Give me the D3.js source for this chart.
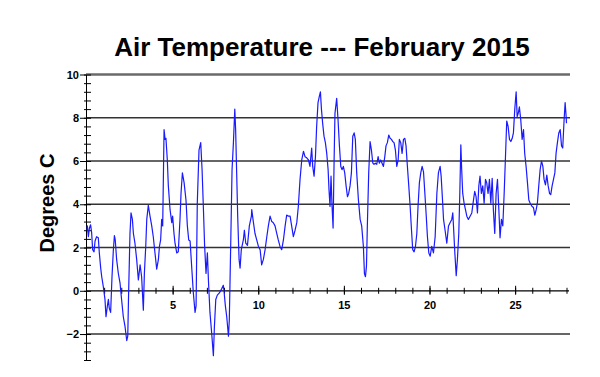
<!DOCTYPE html>
<html>
<head>
<meta charset="utf-8">
<script src="https://cdn.jsdelivr.net/npm/d3@7"></script>
<style>
  body { margin: 0; background: #fff; }
  text { font-family: Arial, "Liberation Sans", sans-serif; }
</style>
</head>
<body>
<div id="chart"></div>
<script>
// Air temperature readings, February 2015 (day of month, degrees C)
const days = [
  0.00,0.02,0.08,0.14,0.21,0.27,0.33,0.41,0.47,0.56,
  0.66,0.72,0.80,0.86,0.95,1.05,1.11,1.19,1.25,1.30,
  1.38,1.46,1.54,1.60,1.65,1.73,1.83,1.93,2.02,2.12,
  2.22,2.32,2.38,2.43,2.51,2.57,2.65,2.71,2.80,2.90,
  3.00,3.10,3.19,3.29,3.35,3.43,3.49,3.58,3.68,3.78,
  3.87,3.97,4.07,4.17,4.23,4.30,4.36,4.42,4.50,4.56,
  4.61,4.69,4.75,4.85,4.95,5.00,5.08,5.14,5.24,5.33,
  5.43,5.49,5.57,5.67,5.78,5.86,5.94,6.02,6.11,6.21,
  6.31,6.37,6.44,6.54,6.64,6.72,6.80,6.87,6.95,7.03,
  7.09,7.18,7.28,7.38,7.44,7.52,7.61,7.73,7.87,7.96,
  8.00,8.08,8.16,8.26,8.31,8.39,8.47,8.55,8.63,8.68,
  8.74,8.80,8.88,8.94,9.01,9.13,9.19,9.27,9.37,9.48,
  9.60,
  9.62,9.72,9.81,9.91,10.01,10.11,10.20,10.30,10.40,10.50,
  10.59,10.69,10.79,10.88,10.98,11.08,11.17,11.27,11.37,11.47,
  11.57,11.66,11.76,11.86,11.95,12.05,12.15,12.25,12.34,12.44,
  12.54,12.64,12.73,12.83,12.93,13.02,13.12,13.18,13.26,13.34,
  13.41,13.49,13.57,13.63,13.69,13.76,13.84,13.92,14.00,14.08,
  14.13,14.19,14.25,14.31,14.37,14.43,14.48,14.58,14.66,14.74,
  14.82,14.89,14.97,15.05,15.13,15.21,15.28,15.36,15.44,15.52,
  15.60,15.67,15.75,15.85,15.95,16.04,16.14,16.20,16.26,16.32,
  16.37,16.45,16.53,16.61,16.69,16.76,16.84,16.92,17.00,17.07,
  17.15,17.23,17.31,17.39,17.46,17.54,17.62,17.70,17.78,17.85,
  17.93,18.01,18.09,18.17,18.24,18.32,18.40,18.48,18.56,18.63,
  18.71,18.79,18.87,18.95,19.02,19.10,19.18,19.26,19.33,19.41,
  19.49,19.57,19.65,19.73,19.80,19.88,19.96,20.04,
  20.13,20.23,20.33,20.43,20.52,20.62,20.68,20.76,20.82,20.91,
  21.01,21.11,21.20,21.30,21.36,21.40,21.48,21.56,21.63,21.71,
  21.77,21.83,21.88,21.94,22.02,22.10,22.18,22.27,22.37,22.47,
  22.57,22.64,22.72,22.80,22.88,22.95,23.03,23.11,23.19,23.27,
  23.34,23.42,23.50,23.58,23.66,23.73,23.81,23.89,23.97,24.05,
  24.12,24.20,24.28,24.36,24.43,24.51,24.59,24.67,24.75,24.83,
  24.90,24.98,25.06,25.12,25.18,25.25,25.33,25.41,25.49,25.56,
  25.64,25.72,25.80,25.88,25.99,26.07,26.15,26.23,26.30,26.38,
  26.46,26.54,26.62,26.69,26.77,26.85,26.93,27.01,27.08,27.16,
  27.24,27.32,27.39,27.47,27.55,27.63,27.71,27.78,27.86,27.92,
  27.98,28.00
];

const temps = [
  2.8,3.0,2.5,2.9,3.05,2.7,1.9,1.8,2.3,2.5,
  2.45,1.75,1.05,0.65,0.2,-0.4,-1.2,-0.7,-0.4,-0.8,
  -1.0,0.65,1.9,2.55,2.35,1.45,0.8,0.35,-0.4,-1.2,
  -1.65,-2.3,-2.1,-0.1,2.65,3.6,3.3,2.65,2.2,1.45,
  0.5,1.2,0.65,-0.9,0.8,2.05,3.3,3.95,3.45,3.0,
  2.5,1.75,1.0,1.45,2.05,2.35,3.3,3.0,7.45,7.0,
  7.05,6.05,4.85,3.75,3.15,3.45,2.65,2.2,1.75,1.8,
  3.3,4.5,5.45,5.0,4.2,3.0,2.35,2.3,1.15,-0.1,
  -1.0,-0.7,4.05,6.5,6.85,5.6,3.75,2.05,0.8,1.75,
  0.5,-1.0,-1.95,-3.0,-1.65,-0.4,-0.2,-0.1,0.1,0.25,
  0.0,-0.7,-1.2,-2.1,-1.35,2.05,5.6,6.85,8.4,7.45,
  5.45,3.45,1.45,1.05,1.9,2.35,2.8,2.2,2.1,3.0,
  3.45,
  3.75,3.15,2.65,2.35,2.05,1.9,1.2,1.45,1.9,2.5,
  3.0,3.45,3.2,3.15,3.0,2.65,2.35,2.05,1.9,2.35,
  3.0,3.5,3.45,3.45,3.0,2.5,2.8,3.15,3.9,5.15,
  6.05,6.45,6.2,6.15,6.05,5.75,6.6,5.75,5.3,6.2,
  7.6,8.7,9.0,9.2,8.4,7.75,7.15,6.85,6.35,5.6,
  4.7,3.9,5.3,3.9,2.9,6.05,8.2,8.9,7.9,6.7,
  5.75,5.6,5.75,5.45,4.85,4.35,4.5,4.85,5.45,7.15,
  7.3,7.0,5.45,4.2,3.3,3.0,2.05,0.8,0.65,1.15,
  3.0,5.45,6.9,6.5,5.9,5.85,5.9,5.85,6.2,5.9,
  6.05,5.9,5.75,6.2,6.7,6.85,7.2,7.05,7.0,6.9,
  6.85,6.5,5.75,6.05,7.0,6.85,6.35,7.0,7.05,6.7,
  5.75,4.85,3.9,2.8,1.9,1.8,2.05,2.65,3.9,5.0,
  5.45,5.75,5.5,4.5,3.6,2.5,1.75,1.6,
  2.05,1.75,2.5,4.5,5.45,5.75,5.3,4.2,3.3,2.8,
  2.2,3.0,3.15,3.3,3.6,3.0,1.75,0.7,1.45,2.65,
  4.5,6.75,5.6,4.5,4.05,3.75,3.45,3.3,3.45,3.6,
  4.2,4.6,4.35,3.6,4.85,5.3,4.5,4.85,4.05,5.15,
  5.0,4.5,5.15,4.05,5.2,3.75,2.65,4.5,5.15,3.75,
  2.45,3.3,3.0,4.5,6.05,7.85,7.6,7.0,6.9,7.05,
  7.3,8.4,9.2,8.05,8.2,8.5,7.9,7.0,7.45,6.35,
  5.75,5.0,4.2,4.05,3.9,3.85,3.5,3.75,4.05,4.85,
  5.6,6.0,5.75,5.15,4.9,5.35,4.85,4.5,4.45,4.85,
  5.15,5.45,6.35,6.85,7.3,7.45,6.7,6.6,7.9,8.7,
  8.05,7.75
];

const xLabelTicks = [5, 10, 15, 20, 25];
const xMinorTicks = d3.range(1, 29);
const yLabelTicks = [-2, 0, 2, 4, 6, 8, 10];
const yMinorTicks = d3.range(-16, 51, 2).map(d => d / 5);
const gridValues = [-2, 2, 4, 6, 8];

const width = 600;
const height = 377;

const svg = d3.select('#chart')
    .append('svg')
    .attr('width', width)
    .attr('height', height);

const x = d3.scaleLinear().domain([0, 28]).range([87, 566.5]);
const y = d3.scaleLinear().domain([-3.2, 10]).range([360, 74.5]);

// Title
svg.append('text')
    .attr('x', 322)
    .attr('y', 56)
    .attr('text-anchor', 'middle')
    .attr('font-size', 26)
    .attr('font-weight', 'bold')
    .text('Air Temperature --- February 2015');

// Y axis title
svg.append('text')
    .attr('transform', 'translate(54,203) rotate(-90)')
    .attr('text-anchor', 'middle')
    .attr('font-size', 20)
    .attr('font-weight', 'bold')
    .text('Degrees C');

// Horizontal grid lines
svg.append('g')
    .selectAll('line')
    .data(gridValues)
    .enter()
    .append('line')
    .attr('x1', 86)
    .attr('x2', 570)
    .attr('y1', d => y(d))
    .attr('y2', d => y(d))
    .attr('stroke', '#333')
    .attr('stroke-width', 1.4);

// Top border at 10
svg.append('line')
    .attr('x1', 86)
    .attr('x2', 570)
    .attr('y1', y(10))
    .attr('y2', y(10))
    .attr('stroke', '#6a6a6a')
    .attr('stroke-width', 2.6);

// Y axis: labels + major ticks
const yAxis = svg.append('g')
    .attr('transform', 'translate(86,0)')
    .call(d3.axisLeft(y).tickValues(yLabelTicks).tickSize(6).tickSizeOuter(0).tickPadding(1));
yAxis.selectAll('text').attr('font-size', 11).attr('font-weight', 'bold').attr('fill', '#000')
    .style('font-family', 'Arial, "Liberation Sans", sans-serif');
yAxis.select('.domain').attr('stroke', '#000');

// Y minor ticks
svg.append('g')
    .attr('transform', 'translate(84,0)')
    .call(d3.axisRight(y).tickValues(yMinorTicks).tickSize(7).tickFormat(''))
    .call(g => g.select('.domain').remove());

// X axis at zero: labels + lower ticks
const xAxis = svg.append('g')
    .attr('transform', `translate(0,${y(0)})`)
    .call(d3.axisBottom(x).tickValues(xLabelTicks).tickSize(4).tickSizeOuter(0).tickPadding(6));
xAxis.select('.domain').remove();
xAxis.selectAll('text').attr('font-size', 11).attr('font-weight', 'bold').attr('fill', '#000')
    .style('font-family', 'Arial, "Liberation Sans", sans-serif');

// X major ticks upper part
svg.append('g')
    .attr('transform', `translate(0,${y(0)})`)
    .call(d3.axisTop(x).tickValues(xLabelTicks).tickSize(5).tickFormat(''))
    .call(g => g.select('.domain').remove());

// X minor ticks crossing the axis
svg.append('g')
    .attr('transform', `translate(0,${y(0) - 3})`)
    .call(d3.axisBottom(x).tickValues(xMinorTicks).tickSize(6).tickFormat(''))
    .call(g => g.select('.domain').remove());

// Zero line
svg.append('line')
    .attr('x1', 86)
    .attr('x2', 569)
    .attr('y1', y(0))
    .attr('y2', y(0))
    .attr('stroke', '#000')
    .attr('stroke-width', 1.2);

// Temperature trace
const points = days.map((d, i) => [d, temps[i]]);
const line = d3.line()
    .x(d => x(d[0]))
    .y(d => y(d[1]));

svg.append('path')
    .datum(points)
    .attr('d', line)
    .attr('fill', 'none')
    .attr('stroke', '#1a1aff')
    .attr('stroke-width', 1.2)
    .attr('stroke-linejoin', 'round');
</script>
</body>
</html>
